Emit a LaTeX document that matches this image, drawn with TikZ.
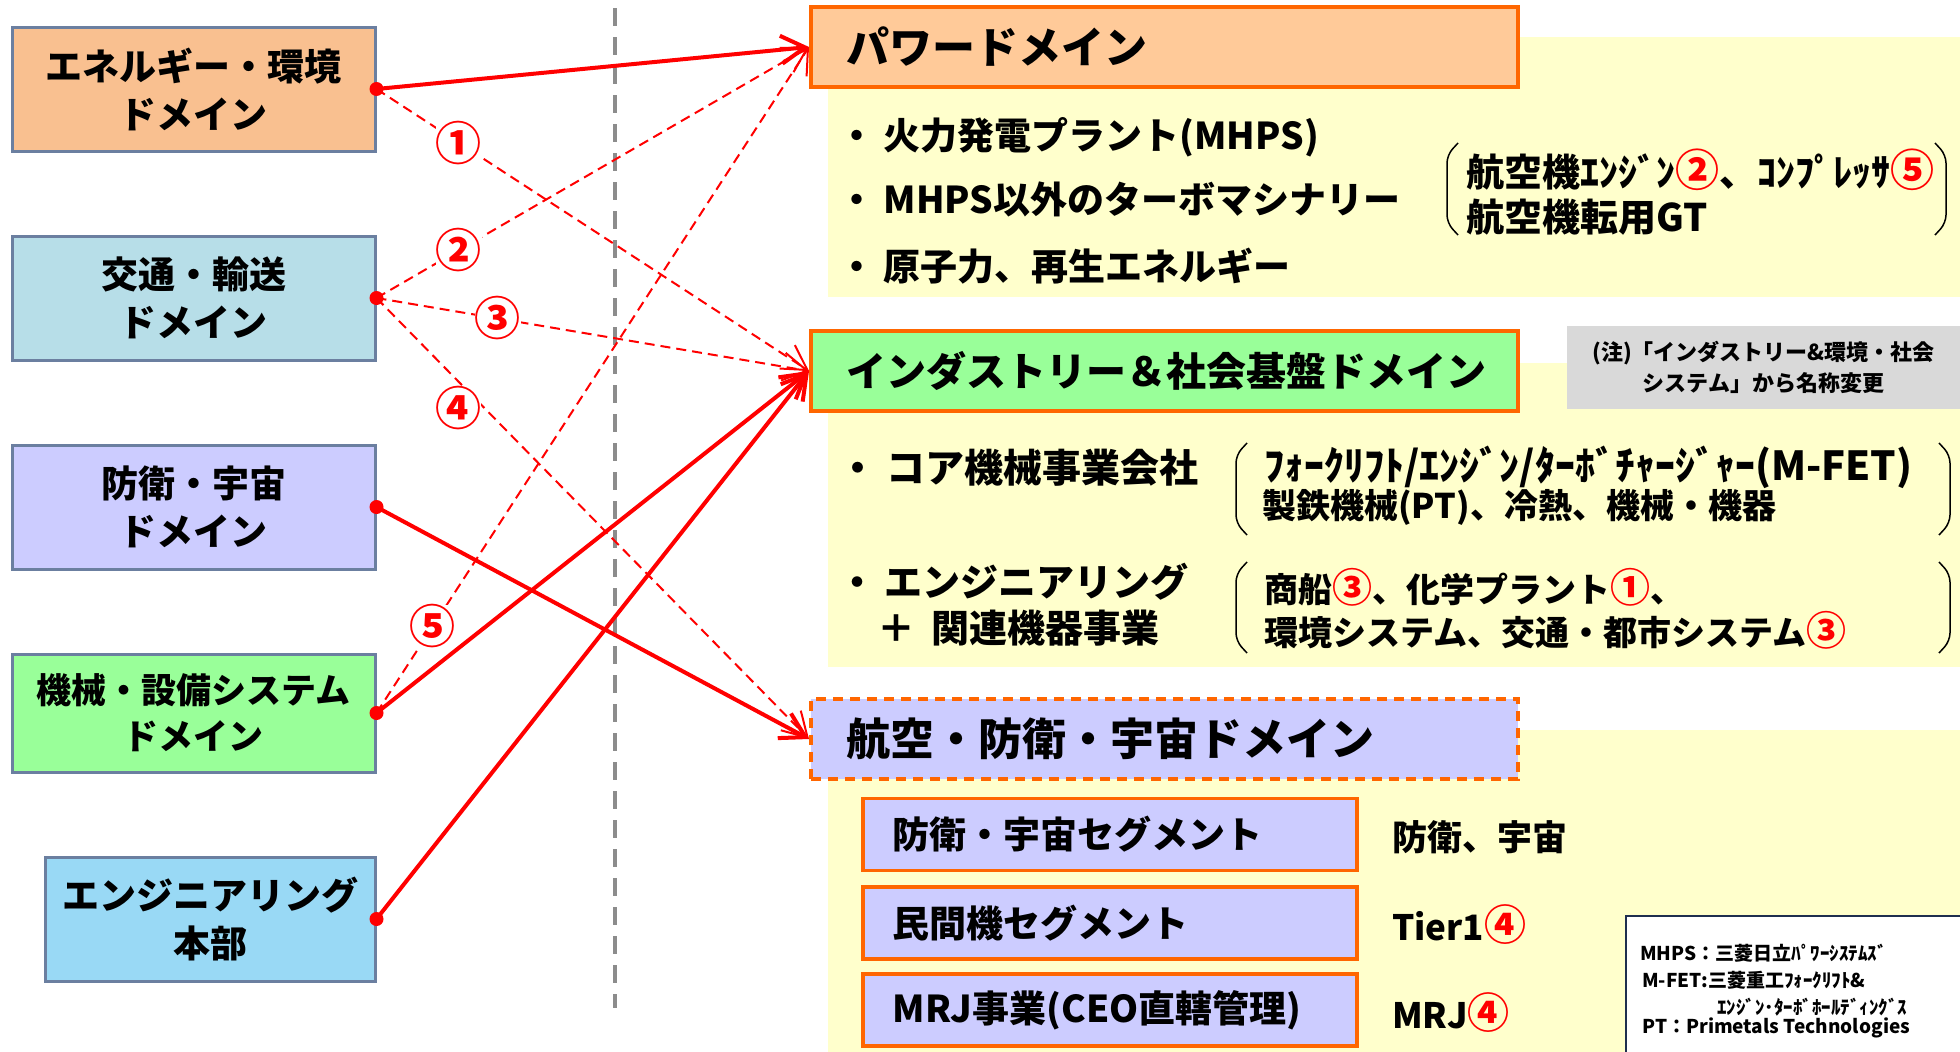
\documentclass[tikz,border=0pt]{standalone}
\usepackage{fontspec}
\setmainfont{Noto Sans CJK JP}[BoldFont={Noto Sans CJK JP Black}]
\usepackage{xcolor}
\usetikzlibrary{positioning}
\usetikzlibrary{arrows.meta}

\definecolor{boxline}{HTML}{6B7FA0}
\definecolor{energyfill}{HTML}{F9C090}
\definecolor{transfill}{HTML}{B7DEE8}
\definecolor{deffill}{HTML}{CCCCFF}
\definecolor{machfill}{HTML}{99FF99}
\definecolor{engfill}{HTML}{99D9F5}
\definecolor{hdrline}{HTML}{FF6600}
\definecolor{powerfill}{HTML}{FFCA99}
\definecolor{panelfill}{HTML}{FFFFCC}
\definecolor{notefill}{HTML}{D9D9D9}
\definecolor{divgray}{HTML}{8C8C8C}
\definecolor{legline}{HTML}{1F2F4F}

\begin{document}
\begin{tikzpicture}[x=1pt,y=-1pt,
      dom style/.style={rectangle,draw=boxline,line width=3pt,minimum
        width=363pt,minimum height=124pt,align=center,
        font=\bfseries\fontsize{37}{48}\selectfont},
      hdr style/.style={rectangle,draw=hdrline,line width=3.5pt,minimum
        height=80pt,inner xsep=36pt,text width=635pt,align=left,anchor=west,
        font=\bfseries\fontsize{42}{48}\selectfont},
      seg style/.style={rectangle,draw=hdrline,line width=3.5pt,fill=deffill,
        minimum height=72pt,inner xsep=30pt,text width=434pt,align=left,
        anchor=west,font=\bfseries\fontsize{37}{44}\selectfont},
      item style/.style={anchor=west,inner sep=0pt,
        font=\bfseries\fontsize{37}{44}\selectfont},
      brk style/.style={anchor=west,inner sep=0pt,
        font=\bfseries\fontsize{34}{40}\selectfont},
      leg style/.style={anchor=west,inner sep=0pt,
        font=\bfseries\fontsize{19}{22}\selectfont},
      num style/.style={text=red,fill=white,inner sep=0pt,
        font=\bfseries\fontsize{46}{46}\selectfont},
      solid link/.style={draw=red,line width=4pt,
        -{Straight Barb[length=24pt,width=28pt]}},
      dash link/.style={draw=red,line width=2pt,dash pattern=on 10pt off 6pt,
        -{Straight Barb[length=24pt,width=28pt]}},
      divider/.style={draw=divgray,line width=4pt,dash pattern=on 18pt off 11pt},
      paren/.style={line width=1.5pt,rounded corners=8pt},
      panel/.style={fill=panelfill}
      ]
      \useasboundingbox (0,0) rectangle (1960,1052);
      \clip (0,0) rectangle (1960,1052);

      \fill[panel] (828,37) rectangle (1960,297);
      \fill[panel] (828,363) rectangle (1960,667);
      \fill[panel] (828,730) rectangle (1960,1052);

      \coordinate (divtop) at (615,8);
      \coordinate (divbot) at (615,1008);
      \draw[divider] (divtop) -- (divbot);

      \node[dom style,fill=energyfill] (energy) at (193.5,89)
        {エネルギー・環境\\ドメイン};
      \node[dom style,fill=transfill,below=82pt of energy] (transport)
        {交通・輸送\\ドメイン};
      \node[dom style,fill=deffill,below=82pt of transport] (defense)
        {防衛・宇宙\\ドメイン};
      \node[dom style,fill=machfill,minimum height=118pt,below=82pt of defense,
        font=\bfseries\fontsize{35}{46}\selectfont]
        (machine) {機械・設備システム\\ドメイン};
      \node[dom style,fill=engfill,minimum width=330pt,below=82pt of
        machine.south east,anchor=north east] (eng) {エンジニアリング\\本部};

      \node[hdr style,fill=powerfill,font=\bfseries\fontsize{43}{48}\selectfont]
        (power) at (809,47) {パワードメイン};
      \node[hdr style,fill=machfill,font=\bfseries\fontsize{40}{48}\selectfont]
        (industry) at (809,371) {インダストリー＆社会基盤ドメイン};
      \node[hdr style,fill=deffill,dashed,dash pattern=on 10pt off 7pt,
        font=\bfseries\fontsize{44}{48}\selectfont]
        (aero) at (809,739) {航空・防衛・宇宙ドメイン};

      \node[fill=notefill,minimum width=393pt,minimum height=83pt,align=center,
        font=\bfseries\fontsize{22}{31}\selectfont] (note) at (1763.5,367.5)
        {(注)「インダストリー\&環境・社会\\システム」から名称変更};

      \node[item style] (pw1) at (838,137) {・ 火力発電プラント(MHPS)};
      \node[item style] (pw2) at (838,199) {・ MHPS以外のターボマシナリー};
      \node[item style] (pw3) at (838,266) {・ 原子力、再生エネルギー};
      \node[brk style,font=\bfseries\fontsize{38}{44}\selectfont] (turbo1)
        at (1466,170) {航空機ｴﾝｼﾞﾝ{\color{red}\fontsize{44}{44}\selectfont ②}、ｺﾝﾌﾟﾚｯｻ{\color{red}\fontsize{44}{44}\selectfont ⑤}};
      \node[brk style,font=\bfseries\fontsize{38}{44}\selectfont] (turbo2)
        at (1466,217) {航空機転用GT};
      \draw[paren] (1458,143) -- (1447,155) -- (1447,223) -- (1458,235);
      \draw[paren] (1935,143) -- (1946,155) -- (1946,223) -- (1935,235);

      \node[item style,font=\bfseries\fontsize{39}{44}\selectfont] (core)
        at (838,468) {・ コア機械事業会社};
      \node[item style,font=\bfseries\fontsize{38}{44}\selectfont] (engi1)
        at (838,582) {・ エンジニアリング};
      \node[item style,font=\bfseries\fontsize{38}{44}\selectfont] (engi2)
        at (877,628) {＋\hspace{16pt}関連機器事業};
      \node[brk style,font=\bfseries\fontsize{40}{44}\selectfont] (core1)
        at (1264,467) {ﾌｫｰｸﾘﾌﾄ/ｴﾝｼﾞﾝ/ﾀｰﾎﾞﾁｬｰｼﾞｬｰ(M-FET)};
      \node[brk style] (core2) at (1262,507) {製鉄機械(PT)、冷熱、機械・機器};
      \node[brk style] (plant1) at (1264,587)
        {商船{\color{red}\fontsize{40}{40}\selectfont ③}、化学プラント{\color{red}\fontsize{40}{40}\selectfont ①}、};
      \node[brk style] (plant2) at (1264,630)
        {環境システム、交通・都市システム{\color{red}\fontsize{40}{40}\selectfont ③}};
      \draw[paren] (1247,443) -- (1236,455) -- (1236,523) -- (1247,535);
      \draw[paren] (1939,443) -- (1950,455) -- (1950,523) -- (1939,535);
      \draw[paren] (1247,562) -- (1236,574) -- (1236,641) -- (1247,653);
      \draw[paren] (1939,562) -- (1950,574) -- (1950,641) -- (1939,653);

      \node[seg style] (seg1) at (861,834.5) {防衛・宇宙セグメント};
      \node[seg style] (seg2) at (861,923) {民間機セグメント};
      \node[seg style] (seg3) at (861,1010) {MRJ事業(CEO直轄管理)};
      \node[item style,font=\bfseries\fontsize{35}{40}\selectfont] (seg1r)
        at (1392,837) {防衛、宇宙};
      \node[item style,font=\bfseries\fontsize{35}{40}\selectfont] (seg2r)
        at (1392,925) {Tier1{\color{red}\fontsize{42}{42}\selectfont ④}};
      \node[item style,font=\bfseries\fontsize{35}{40}\selectfont] (seg3r)
        at (1392,1013) {MRJ{\color{red}\fontsize{42}{42}\selectfont ④}};

      \node[draw=legline,fill=white,line width=2pt,minimum width=370pt,
        minimum height=150pt,anchor=north west] (legend) at (1625,915) {};
      \node[leg style] (leg1) at (1640,953) {MHPS：三菱日立ﾊﾟﾜｰｼｽﾃﾑｽﾞ};
      \node[leg style] (leg2) at (1642,980) {M-FET:三菱重工ﾌｫｰｸﾘﾌﾄ\&};
      \node[leg style] (leg3) at (1717,1007) {ｴﾝｼﾞﾝ･ﾀｰﾎﾞﾎｰﾙﾃﾞｨﾝｸﾞｽ};
      \node[leg style] (leg4) at (1642,1028) {PT：Primetals Technologies};

      \draw[solid link] (energy.east) -- (power.west);
      \draw[dash link] (energy.east) -- node[num style,pos=0.19] {①}
        (industry.west);
      \draw[dash link] (transport.east) -- node[num style,pos=0.19] {②}
        (power.west);
      \draw[dash link] (transport.east) -- node[num style,pos=0.28] {③}
        (industry.west);
      \draw[dash link] (transport.east) -- node[num style,pos=0.2,xshift=-5pt,
        yshift=-22pt] {④} (aero.west);
      \draw[solid link] (defense.east) -- (aero.west);
      \draw[dash link] (machine.east) -- node[num style,pos=0.13] {⑤}
        (power.west);
      \draw[solid link] (machine.east) -- (industry.west);
      \draw[solid link] (eng.east) -- (industry.west);

      \foreach \n in {energy,transport,defense,machine,eng}
        \fill[red] (\n.east) circle (7pt);

    \end{tikzpicture}
\end{document}
